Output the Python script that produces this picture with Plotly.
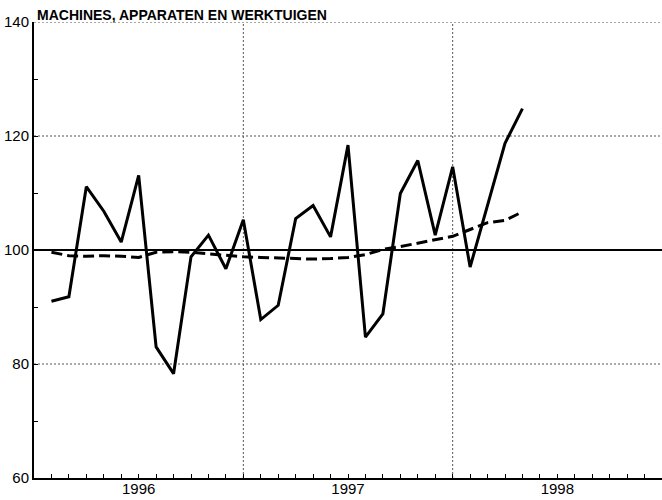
import plotly.graph_objects as go

# Month index: 1 = Jan 1996, 13 = Jan 1997, 25 = Jan 1998
months = list(range(2, 30))
actual = [91.0, 91.8, 111.1, 106.8, 101.4, 113.1, 83.0, 78.3, 98.8, 102.6, 96.7, 105.3,
          87.8, 90.3, 105.5, 107.8, 102.3, 118.4, 84.7, 88.8, 109.9, 115.7, 102.6, 114.6,
          97.0, 107.8, 118.7, 124.8]
trend = [99.6, 99.0, 98.9, 99.0, 98.9, 98.7, 99.6, 99.7, 99.6, 99.3, 99.0, 98.8,
         98.7, 98.6, 98.5, 98.4, 98.5, 98.7, 99.2, 100.1, 100.6, 101.2, 101.7, 102.4,
         103.6, 104.8, 105.2, 106.7]
year_labels = ["1996", "1997", "1998"]
year_label_pos = [7, 19, 31]
year_bounds = [13, 25]
y_labels = [60, 80, 100, 120, 140]
y_grid = [80, 120, 140]
title = "MACHINES, APPARATEN EN WERKTUIGEN"

FONT = "Liberation Sans, Arial, sans-serif"

fig = go.Figure()
fig.add_trace(go.Scatter(x=months, y=trend, mode="lines",
                         line=dict(color="black", width=3, dash="11px,5px"),
                         showlegend=False, hoverinfo="skip"))
fig.add_trace(go.Scatter(x=months, y=actual, mode="lines",
                         line=dict(color="black", width=3),
                         showlegend=False, hoverinfo="skip"))

# x ticks: monthly inside ticks, labels only at mid-year
xt_vals = list(range(2, 37))
xt_text = [year_labels[year_label_pos.index(v)] if v in year_label_pos else "" for v in xt_vals]
# y ticks: every 10, labels every 20
yt_vals = list(range(60, 141, 10))
yt_text = [str(v) if v in y_labels else "" for v in yt_vals]

GRID = dict(color="#555", width=1, dash="2px,2px")
shapes = []
for g in y_grid:
    shapes.append(dict(type="line", xref="paper", yref="y", x0=0, x1=1, y0=g, y1=g,
                       line=GRID, layer="below"))
for b in year_bounds:
    shapes.append(dict(type="line", xref="x", yref="paper", x0=b, x1=b, y0=0, y1=1,
                       line=GRID, layer="below"))
shapes.append(dict(type="line", xref="paper", yref="y", x0=0, x1=1, y0=100, y1=100,
                   line=dict(color="black", width=2), layer="below"))

fig.update_layout(
    width=662, height=500,
    margin=dict(l=34, r=0, t=22, b=22),
    paper_bgcolor="white", plot_bgcolor="white",
    font=dict(family=FONT, color="black", size=15),
    shapes=shapes,
    annotations=[dict(text="<b>" + title + "</b>", xref="paper", yref="paper",
                      x=0, y=1, xanchor="left", yanchor="bottom", showarrow=False,
                      xshift=1, yshift=-3, font=dict(family=FONT, size=14, color="black"))],
    xaxis=dict(range=[1, 37], tickmode="array", tickvals=xt_vals, ticktext=xt_text,
               ticks="inside", ticklen=4, tickwidth=1, tickcolor="black",
               ticklabelstandoff=-4,
               showgrid=False, zeroline=False, showline=True, linecolor="black",
               linewidth=2, mirror=False, tickfont=dict(size=15)),
    yaxis=dict(range=[60, 140], tickmode="array", tickvals=yt_vals, ticktext=yt_text,
               ticks="inside", ticklen=4, tickwidth=1, tickcolor="black",
               showgrid=False, zeroline=False, showline=True, linecolor="black",
               linewidth=2, mirror=False, tickfont=dict(size=15)),
)

# remove the default 8px page margin so the figure sits at the window's top-left
fig.write_html("out.html", config={"displayModeBar": False},
               post_script="document.body.style.margin='0';")
